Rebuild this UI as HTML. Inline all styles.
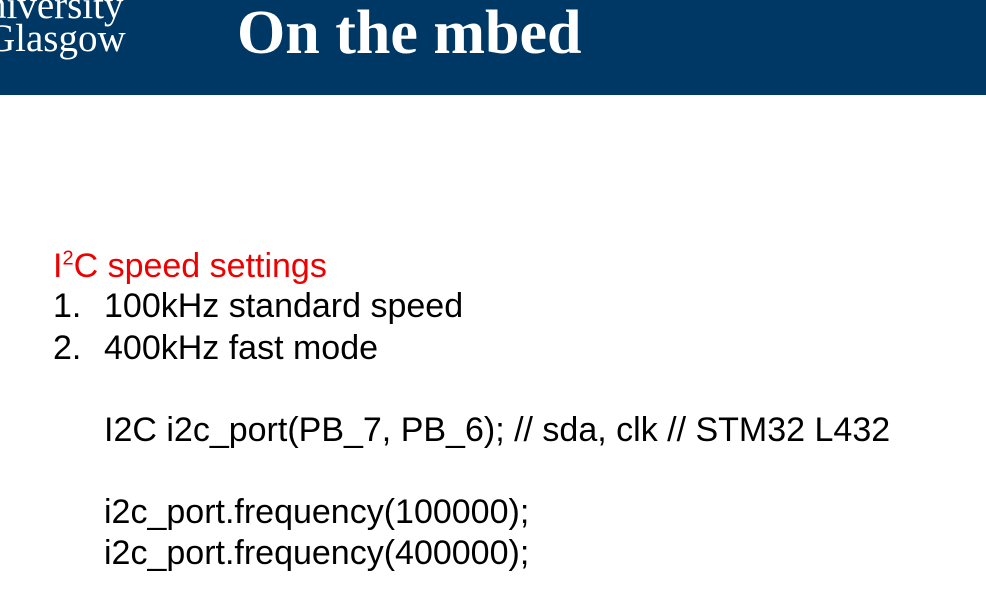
<!DOCTYPE html>
<html><head><style>
body{margin:0;width:986px;height:611px;overflow:hidden;background:#fff;position:relative;font-family:"Liberation Sans",sans-serif}
.hdr{position:absolute;left:0;top:0;width:986px;height:95px;background:#003865}
.logo{position:absolute;left:-13px;top:-11px;color:#fff;font-family:"Liberation Serif",serif;font-size:39px;line-height:33px}
.title{position:absolute;left:237px;top:-3px;color:#fff;font-family:"Liberation Serif",serif;font-weight:bold;font-size:62px;line-height:72px}
.t{position:absolute;font-size:34px;line-height:36px;color:#000;white-space:nowrap}
</style></head><body>
<div class="hdr"></div>
<div class="logo">niversity<br>Glasgow</div>
<div class="title">On the mbed</div>
<div class="t" style="left:53px;top:248px;color:#e00">I<sup style="font-size:20px;line-height:0">2</sup>C speed settings</div>
<div class="t" style="left:53px;top:288px">1.</div><div class="t" style="left:104px;top:288px">100kHz standard speed</div>
<div class="t" style="left:53px;top:330px">2.</div><div class="t" style="left:104px;top:330px">400kHz fast mode</div>
<div class="t" style="left:104px;top:412px">I2C i2c_port(PB_7, PB_6); // sda, clk // STM32 L432</div>
<div class="t" style="left:104px;top:494px">i2c_port.frequency(100000);</div>
<div class="t" style="left:104px;top:535px">i2c_port.frequency(400000);</div>
</body></html>
